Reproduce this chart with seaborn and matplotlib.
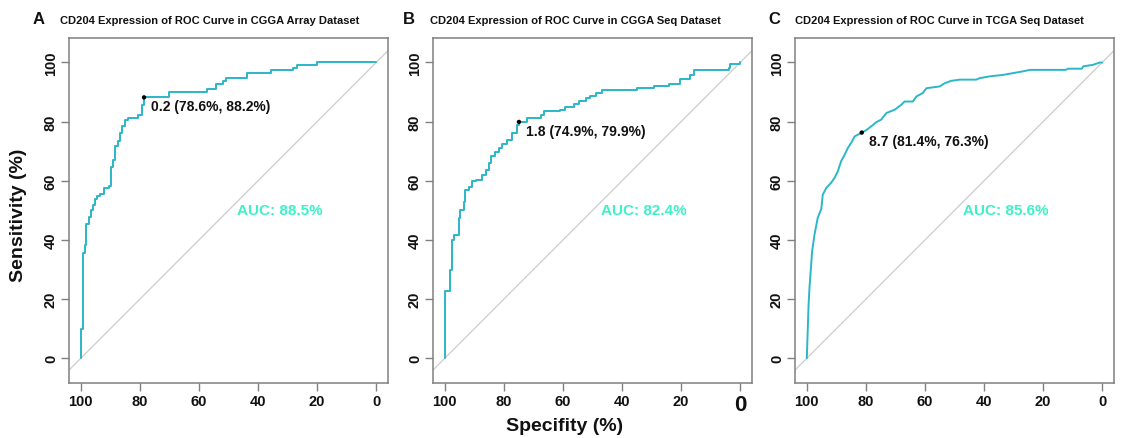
import numpy as np
import pandas as pd
import matplotlib
matplotlib.use("Agg")
import matplotlib.pyplot as plt
import seaborn as sns

# ---------------- data ----------------
panel_letters = ["A", "B", "C"]
titles = [
    "CD204 Expression of ROC Curve in CGGA Array Dataset",
    "CD204 Expression of ROC Curve in CGGA Seq Dataset",
    "CD204 Expression of ROC Curve in TCGA Seq Dataset",
]
auc_labels = ["AUC: 88.5%", "AUC: 82.4%", "AUC: 85.6%"]
thresholds = ["0.2", "1.8", "8.7"]
best_spec = [78.6, 74.9, 81.4]
best_sens = [88.2, 79.9, 76.3]

spec_a = [100, 100, 99.3, 98.6, 98.2, 97.3, 96.5, 95.9, 95.3, 94.6,
          93.5, 92.0, 90.5, 89.8, 89.2, 88.3, 87.5, 86.9, 86.0, 85.2,
          84.1, 80.7, 79.3, 78.6, 70.2, 57.3, 54.1, 51.9, 50.7, 43.7,
          35.6, 28.0, 26.8, 20.1, 0]
sens_a = [0, 9.9, 35.5, 38.3, 45.5, 47.9, 50.0, 51.8, 53.8, 54.8,
          55.6, 57.4, 58.4, 64.5, 67.1, 71.6, 73.5, 76.2, 78.4, 80.5,
          81.1, 82.1, 85.6, 88.2, 89.9, 91.0, 92.6, 93.7, 94.6, 96.3,
          97.4, 98.3, 99.1, 100, 100]

spec_b = [100, 100, 98.1, 97.5, 97.0, 95.3, 94.7, 93.6, 93.0, 91.9,
          90.8, 89.6, 87.4, 86.2, 85.1, 84.2, 82.9, 81.7, 80.6, 78.9,
          77.2, 75.5, 74.9, 72.2, 67.6, 66.5, 60.9, 59.2, 56.3, 54.6,
          52.3, 50.7, 48.9, 46.8, 35.0, 29.3, 24.2, 20.3, 16.9, 15.8,
          3.9, 3.4, 0]
sens_b = [0, 22.7, 30.0, 39.9, 41.6, 47.5, 50.1, 52.8, 56.8, 57.9,
          59.8, 60.4, 62.1, 63.8, 66.0, 68.3, 69.6, 71.1, 72.6, 73.7,
          76.2, 79.0, 79.9, 81.2, 82.1, 83.5, 84.1, 84.9, 85.8, 86.9,
          87.9, 88.7, 89.8, 90.7, 91.3, 91.9, 92.7, 94.4, 95.8, 97.3,
          98.1, 99.4, 100]

spec_c = [100, 99.7, 99.4, 99.1, 98.2, 97.4, 96.3, 95.1, 94.6, 93.4,
          91.8, 90.6, 89.5, 88.4, 87.2, 86.1, 85.0, 83.8, 81.4, 79.9,
          78.2, 76.5, 74.8, 73.1, 70.3, 68.0, 66.9, 64.1, 62.9, 60.7,
          59.5, 55.0, 53.3, 51.1, 48.2, 42.6, 41.5, 38.1, 33.6, 30.2,
          26.8, 24.5, 12.4, 11.5, 6.9, 6.4, 3.1, 0.8, 0]
sens_c = [0, 9.2, 18.2, 23.8, 36.2, 41.8, 47.5, 50.5, 55.3, 57.6,
          59.3, 61.0, 63.2, 66.6, 68.8, 71.1, 72.8, 75.0, 76.3, 77.1,
          78.4, 79.8, 80.7, 82.9, 84.0, 85.7, 86.8, 86.8, 88.5, 89.7,
          91.3, 91.9, 93.0, 93.8, 94.2, 94.2, 94.7, 95.3, 95.8, 96.4,
          97.0, 97.5, 97.5, 97.9, 97.9, 98.7, 99.2, 100, 100]

chance = [0, 100]
x_ticks = [100, 80, 60, 40, 20, 0]
y_ticks = [0, 20, 40, 60, 80, 100]

specs = [spec_a, spec_b, spec_c]
senss = [sens_a, sens_b, sens_c]
drawstyles = ["steps-post", "steps-post", "default"]

# ---------------- style ----------------
sns.set_theme(style="white")
plt.rcParams["font.family"] = ["Liberation Sans", "DejaVu Sans"]

W, H = 1124, 439
fig = plt.figure(figsize=(W / 100, H / 100), dpi=100)

curve_color = "#2BB7C9"
auc_color = "#3CF2C6"
frame_color = "#808080"

lefts = [69, 433, 795]
letter_x = [33, 403, 768]
title_x = [60, 430, 795]

for i in range(3):
    ax = fig.add_axes([lefts[i] / W, 0.125, 319 / W, 0.787])
    ax.axline((chance[0], chance[1]), (chance[1], chance[0]),
              color="#cccccc", lw=0.9, zorder=1)
    df = pd.DataFrame({"spec": specs[i], "sens": senss[i]})
    sns.lineplot(data=df, x="spec", y="sens", sort=False, estimator=None,
                 color=curve_color, lw=1.4, drawstyle=drawstyles[i],
                 ax=ax, zorder=3)
    pt = pd.DataFrame({"spec": [best_spec[i]], "sens": [best_sens[i]]})
    sns.scatterplot(data=pt, x="spec", y="sens", color="black", s=10,
                    edgecolor="none", ax=ax, zorder=4)
    ax.text(best_spec[i] - 2.3, best_sens[i] - 3.0,
            f"{thresholds[i]} ({best_spec[i]:.1f}%, {best_sens[i]:.1f}%)",
            ha="left", va="center", fontsize=10, fontweight="bold",
            color="#111111")
    ax.text(47, 50, auc_labels[i], ha="left", va="center", fontsize=11,
            fontweight="bold", color=auc_color)

    ax.set_xlim(104, -4)
    ax.set_ylim(-8.4, 108.4)
    ax.set_xticks(x_ticks)
    ax.set_yticks(y_ticks)
    ax.set_xticklabels([str(t) for t in x_ticks], fontweight="bold")
    ax.set_yticklabels([str(t) for t in y_ticks], fontweight="bold",
                       rotation=90, va="center")
    ax.set_xlabel("")
    ax.set_ylabel("")
    ax.tick_params(axis="both", direction="out", length=6, width=1,
                   color=frame_color, labelsize=10.5, pad=2,
                   labelcolor="#111111")
    ax.tick_params(axis="both", which="both", bottom=True, left=True)
    for sp in ax.spines.values():
        sp.set_color(frame_color)
        sp.set_linewidth(1.1)
        sp.set_visible(True)
    ax.grid(False)
    if i == 1:
        ax.get_xticklabels()[-1].set_fontsize(16)

    fig.text(letter_x[i] / W, 1 - 19 / H, panel_letters[i], fontsize=12,
             fontweight="bold", ha="left", va="center", color="#111111")
    fig.text(title_x[i] / W, 1 - 21 / H, titles[i], fontsize=8,
             fontweight="bold", ha="left", va="center", color="#111111")

fig.text(19 / W, 1 - 215 / H, "Sensitivity (%)", rotation=90, fontsize=14,
         fontweight="bold", ha="center", va="center", color="#111111")
fig.text(565 / W, 1 - 427 / H, "Specifity (%)", fontsize=14,
         fontweight="bold", ha="center", va="center", color="#111111")

fig.savefig("out.png", dpi=100)
